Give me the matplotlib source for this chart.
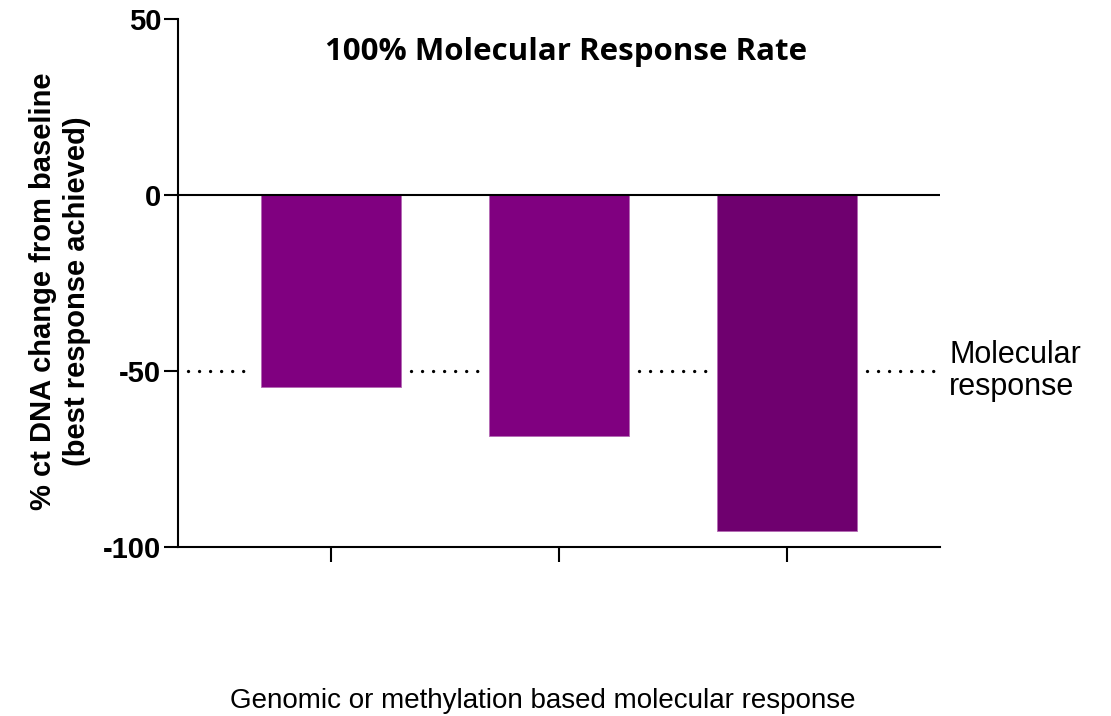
import matplotlib.pyplot as plt

# best response per patient, % change in ctDNA from baseline
patients = [0, 1, 2]
pct_change = [-54.5, -68.5, -95.5]
bar_colors = ['#800080', '#800080', '#6f006f']
threshold = -50

y_ticks = [50, 0, -50, -100]

fig = plt.figure(figsize=(11.11, 7.16), dpi=100)
ax = fig.add_axes([0.1602, 0.236, 0.686, 0.7375])

bar_w = 0.612
ax.bar(patients, pct_change, width=bar_w, color=bar_colors,
       edgecolor='#b469b4', linewidth=0.6, zorder=2)

# zero baseline across the plot
ax.axhline(0, color='black', linewidth=1.5, zorder=3)

# dotted molecular response threshold, broken around each bar
gap = 0.045
edges = [-0.626]
for p in patients:
    edges += [p - bar_w / 2 - gap, p + bar_w / 2 + gap]
edges.append(2.665)
for a, b in zip(edges[::2], edges[1::2]):
    ax.plot([a, b], [threshold, threshold], color='black', linewidth=2.4,
            linestyle=(0, (0.01, 3.3)), dash_capstyle='round', zorder=1)

ax.set_xlim(-0.67, 2.67)
ax.set_ylim(-100, 50)
ax.set_yticks(y_ticks)
ax.set_yticklabels([str(t) for t in y_ticks], fontsize=21, fontweight='bold',
                   family='Liberation Sans')
ax.set_xticks(patients)
ax.set_xticklabels([])

for s in ['top', 'right']:
    ax.spines[s].set_visible(False)
for s in ['left', 'bottom']:
    ax.spines[s].set_linewidth(1.5)
ax.tick_params(axis='y', length=10, width=1.5, pad=2)
ax.tick_params(axis='x', length=11, width=1.5)

fig.text(60 / 1111, 1 - 291 / 716,
         '% ct DNA change from baseline\n(best response achieved)',
         rotation=90, ha='center', va='center', fontsize=21,
         fontweight='bold', family='Liberation Sans', linespacing=1.25)

ax.text(1.03, 40.5, '100% Molecular Response Rate', ha='center', va='center',
        fontsize=22.5, fontweight='bold', family='Open Sans')

ax.text(2.71, -50, 'Molecular\nresponse', ha='left', va='center',
        fontsize=22, family='Liberation Sans', linespacing=1.05)

fig.text(543 / 1111, 1 - 701 / 716,
         'Genomic or methylation based molecular response',
         ha='center', va='center', fontsize=20, family='Liberation Sans')

fig.savefig('out.png', dpi=100)
